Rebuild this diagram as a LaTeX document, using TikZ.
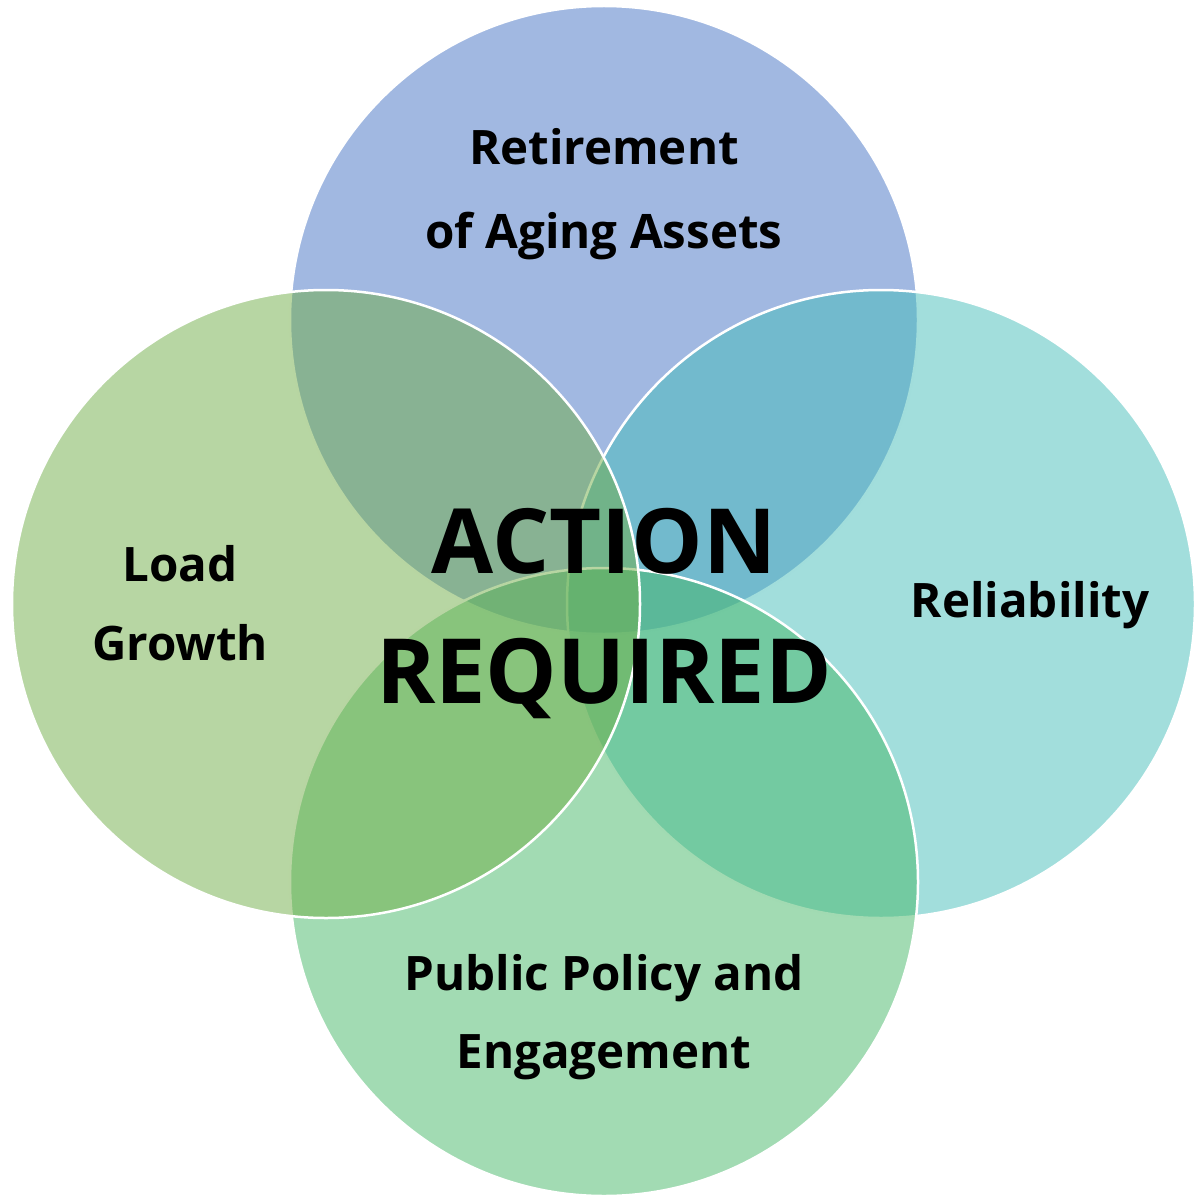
\documentclass[tikz,border=0pt]{standalone}
\usepackage{fontspec}
\setmainfont{Open Sans}[BoldFont={* Bold}]
\definecolor{cTop}{RGB}{68,114,196}
\definecolor{cRight}{RGB}{69,189,185}
\definecolor{cBottom}{RGB}{69,183,103}
\definecolor{cLeft}{RGB}{112,173,71}
\tikzset{
  venn/.style={circle, minimum size=628pt, inner sep=0pt, draw=white, line width=2.5pt, fill opacity=0.5},
  lbl/.style={anchor=base, inner sep=0pt, font=\bfseries\fontsize{47.5}{52}\selectfont, text=black},
  big/.style={anchor=base, inner sep=0pt, font=\bfseries\fontsize{90}{100}\selectfont, text=black}
}
\begin{document}
\begin{tikzpicture}[x=1pt,y=-1pt]
\useasboundingbox (0,0) rectangle (1193,1198);
\node[venn, fill=cTop]    (top)    at (604,320) {};
\node[venn, fill=cRight]  (right)  at (881,604) {};
\node[venn, fill=cBottom] (bottom) at (604,882) {};
\node[venn, fill=cLeft]   (left)   at (326,604) {};
\node[lbl] (t1) at (604,165) {Retirement};
\node[lbl] (t2) at (604,248) {of Aging Assets};
\node[lbl] (l1) at (180,581) {Load};
\node[lbl] (l2) at (180,660) {Growth};
\node[lbl] (r1) at (1030,617) {Reliability};
\node[lbl] (b1) at (604,990) {Public Policy and};
\node[lbl] (b2) at (604,1068) {Engagement};
\node[big] (c1) at (604,573) {ACTION};
\node[big] (c2) at (604,703) {REQUIRED};
\end{tikzpicture}
\end{document}
